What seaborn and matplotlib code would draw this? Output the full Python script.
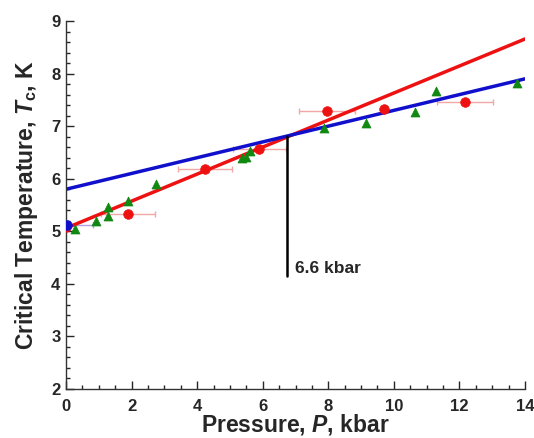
import matplotlib
matplotlib.use("Agg")
import matplotlib.pyplot as plt
import seaborn as sns
import numpy as np
import pandas as pd
from matplotlib.ticker import MultipleLocator

# Measured data
red_p = [0.0, 1.88, 4.24, 5.90, 7.95, 9.70, 12.18]
red_tc = [5.08, 5.33, 6.19, 6.56, 7.28, 7.33, 7.45]
red_perr = [0.0, 0.82, 0.82, 0.80, 0.85, 0.0, 0.85]

blue_p = [0.03]
blue_tc = [5.12]
blue_perr = [0.8]

green_p = [0.27, 0.91, 1.28, 1.28, 1.89, 2.74, 5.38, 5.50, 5.62, 7.87, 9.15, 10.64, 11.30, 13.75]
green_tc = [5.05, 5.20, 5.29, 5.46, 5.58, 5.89, 6.40, 6.42, 6.52, 6.97, 7.06, 7.26, 7.66, 7.82]

# Linear fits: intercept, slope
red_fit = (5.06, 0.257)
blue_fit = (5.80, 0.150)
fit_range = [0.0, 14.0]

crossing_p = 6.75
crossing_label = "6.6 kbar"
label_bottom = 4.15

sns.set_style("ticks")
plt.rcParams["font.family"] = ["Liberation Sans", "DejaVu Sans"]
plt.rcParams["font.weight"] = "bold"
plt.rcParams["mathtext.fontset"] = "custom"
plt.rcParams["mathtext.rm"] = "Liberation Sans:bold"
plt.rcParams["mathtext.it"] = "Liberation Sans:bold:italic"
plt.rcParams["mathtext.bf"] = "Liberation Sans:bold"

fig = plt.figure(figsize=(5.34, 4.38), dpi=100)
ax = fig.add_axes([66 / 534, 1 - 389 / 438, (525 - 66) / 534, (389 - 21) / 438])

RED = "#ee1111"
BLUE = "#1010cc"
GREEN = "#118811"
PINK = "#f2a6a6"

# error bars (drawn first, underneath)
ax.errorbar(red_p, red_tc, xerr=red_perr, fmt="none", ecolor=PINK,
            elinewidth=1.0, capsize=2.5, capthick=1.0, zorder=1)
ax.errorbar(blue_p, blue_tc, xerr=blue_perr, fmt="none", ecolor="#b0a0e0",
            elinewidth=1.0, capsize=2.5, capthick=1.0, zorder=1)

# fit lines
xs = np.array(fit_range)
fits = pd.DataFrame({
    "P": np.concatenate([xs, xs]),
    "Tc": np.concatenate([red_fit[0] + red_fit[1] * xs, blue_fit[0] + blue_fit[1] * xs]),
    "fit": ["red"] * 2 + ["blue"] * 2,
})
sns.lineplot(data=fits, x="P", y="Tc", hue="fit", palette={"red": RED, "blue": BLUE},
             linewidth=2.5, legend=False, ax=ax, zorder=2)

# crossing marker
cross_tc = blue_fit[0] + blue_fit[1] * crossing_p
ax.plot([crossing_p, crossing_p], [label_bottom, cross_tc], color="black", lw=1.8, zorder=2)
ax.text(crossing_p + 0.22, label_bottom, crossing_label, fontsize=12.5, fontweight="bold",
        ha="left", va="bottom")

# data points
sns.scatterplot(x=green_p, y=green_tc, marker="^", color=GREEN, s=42, edgecolor=GREEN,
                linewidth=0.5, ax=ax, zorder=3)
sns.scatterplot(x=red_p, y=red_tc, marker="o", color=RED, s=48, edgecolor=RED,
                linewidth=0.5, ax=ax, zorder=4)
sns.scatterplot(x=blue_p, y=blue_tc, marker="o", color=BLUE, s=48, edgecolor=BLUE,
                linewidth=0.5, ax=ax, zorder=4)

ax.set_xlim(0, 14)
ax.set_ylim(2, 9)
ax.xaxis.set_major_locator(MultipleLocator(2))
ax.xaxis.set_minor_locator(MultipleLocator(0.5))
ax.yaxis.set_major_locator(MultipleLocator(1))
ax.yaxis.set_minor_locator(MultipleLocator(0.2))
ax.tick_params(which="major", direction="in", length=6, width=1.0, labelsize=12)
ax.tick_params(axis="x", which="major", pad=7)
ax.tick_params(axis="y", which="major", pad=4)
ax.tick_params(which="minor", direction="in", length=3, width=1.0)
for lab in ax.get_xticklabels() + ax.get_yticklabels():
    lab.set_fontweight("bold")

sns.despine(ax=ax)
for s in ["left", "bottom"]:
    ax.spines[s].set_linewidth(1.0)
    ax.spines[s].set_color("#333333")

ax.set_xlabel(r"Pressure, $P$, kbar", fontsize=16.5, fontweight="bold", labelpad=-1)
ax.set_ylabel(r"Critical Temperature, $T_{\mathrm{c}}$, K", fontsize=16.5, fontweight="bold", labelpad=8)

fig.savefig("out.png", dpi=100)
